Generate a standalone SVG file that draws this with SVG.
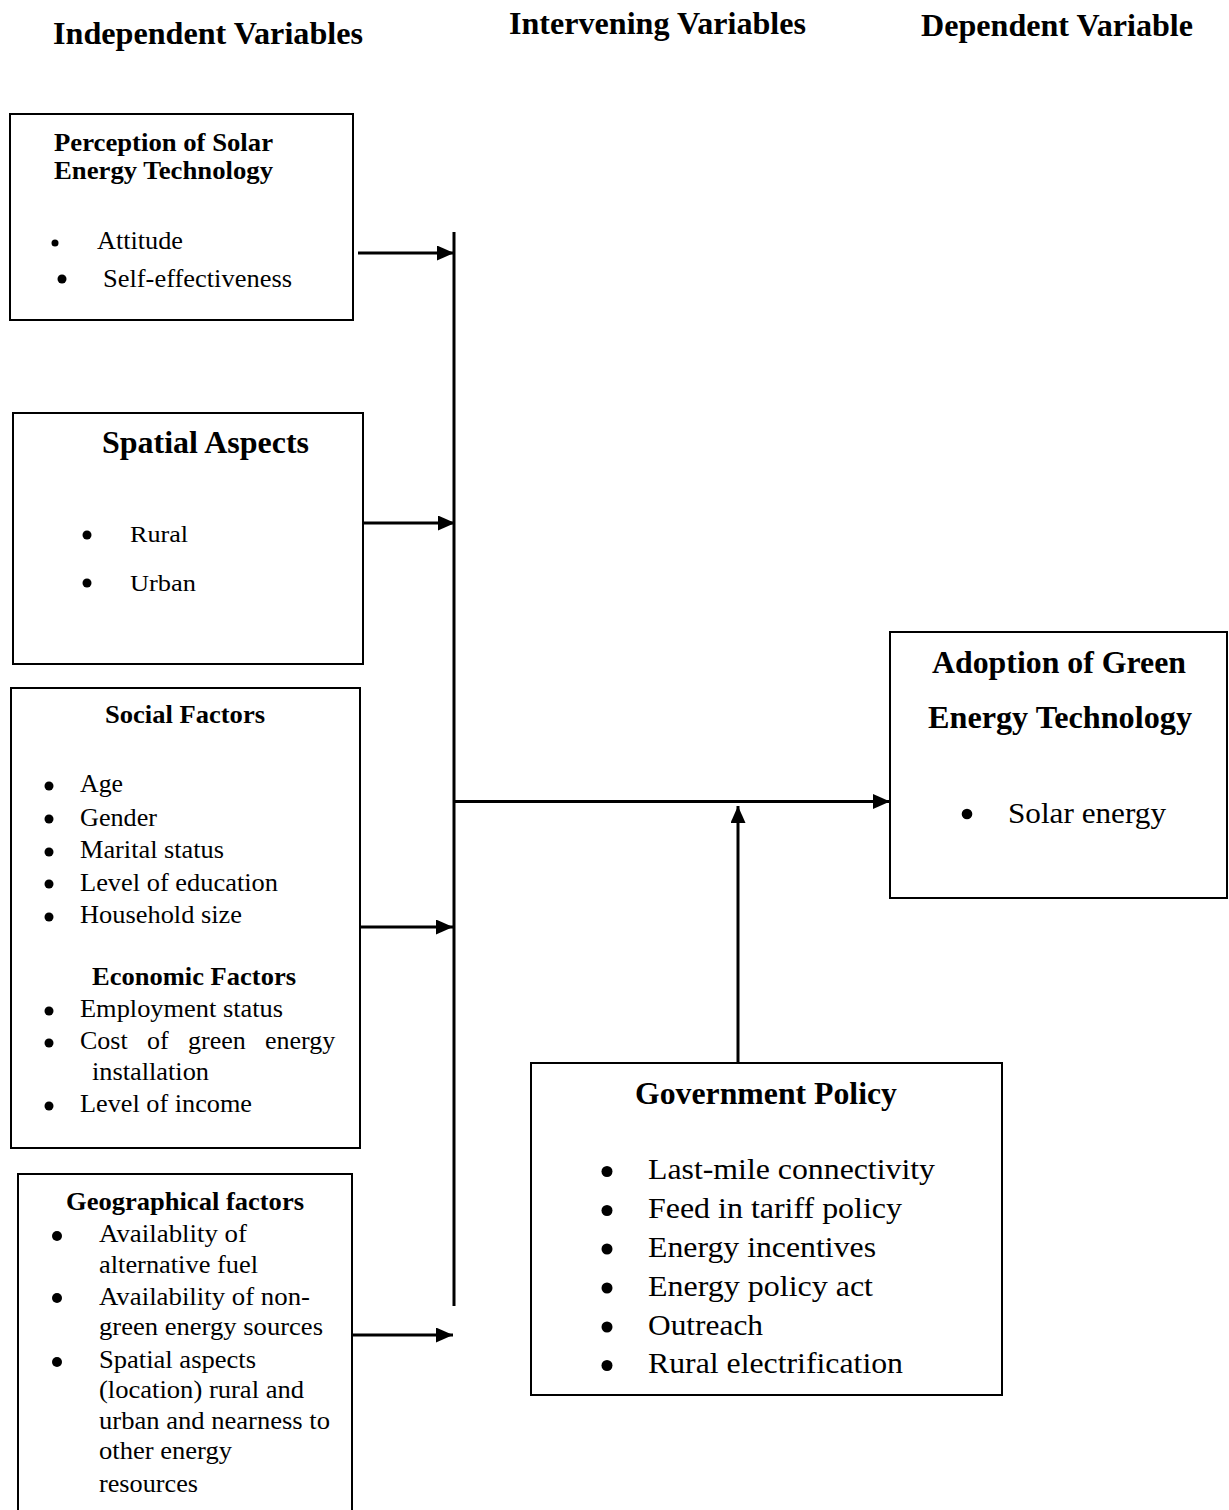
<svg xmlns="http://www.w3.org/2000/svg" width="1229" height="1510" viewBox="0 0 1229 1510">
<style>
text{font-family:"Liberation Serif","Times New Roman",serif;fill:#000}
.b{font-weight:bold}
.hd{font-size:32px;font-weight:bold}
.box{fill:#fff;stroke:#000;stroke-width:2}
.con{stroke:#000;stroke-width:3;fill:none}
.bul{fill:#000}
</style>
<defs>
<marker id="ah" markerUnits="userSpaceOnUse" markerWidth="17" markerHeight="15" refX="17" refY="7.5" orient="auto">
<path d="M0,0 L17,7.5 L0,15 z" fill="#000"/>
</marker>
</defs>
<rect width="1229" height="1510" fill="#fff"/>
<g id="headers">
<text class="hd" x="53" y="44" textLength="310" lengthAdjust="spacingAndGlyphs">Independent Variables</text>
<text class="hd" x="509" y="34" textLength="297" lengthAdjust="spacingAndGlyphs">Intervening Variables</text>
<text class="hd" x="921" y="36" textLength="272" lengthAdjust="spacingAndGlyphs">Dependent Variable</text>
</g>
<g id="perception">
<rect class="box" x="10" y="114" width="343" height="206"/>
<text class="b" font-size="25" x="54" y="151" textLength="219" lengthAdjust="spacingAndGlyphs">Perception of Solar</text>
<text class="b" font-size="25" x="54" y="179" textLength="219" lengthAdjust="spacingAndGlyphs">Energy Technology</text>
<circle class="bul" cx="55" cy="243" r="3.5"/>
<text font-size="25" x="97" y="249" textLength="86" lengthAdjust="spacingAndGlyphs">Attitude</text>
<circle class="bul" cx="62" cy="279" r="4.5"/>
<text font-size="25" x="103" y="287" textLength="189" lengthAdjust="spacingAndGlyphs">Self-effectiveness</text>
</g>
<g id="spatial">
<rect class="box" x="13" y="413" width="350" height="251"/>
<text class="b" font-size="32" x="102" y="453" textLength="207" lengthAdjust="spacingAndGlyphs">Spatial Aspects</text>
<circle class="bul" cx="87" cy="535" r="4.5"/>
<text font-size="24" x="130" y="542" textLength="58" lengthAdjust="spacingAndGlyphs">Rural</text>
<circle class="bul" cx="87" cy="583" r="4.5"/>
<text font-size="24" x="130" y="591" textLength="66" lengthAdjust="spacingAndGlyphs">Urban</text>
</g>
<g id="social">
<rect class="box" x="11" y="688" width="349" height="460"/>
<text class="b" font-size="26" x="105" y="723" textLength="160" lengthAdjust="spacingAndGlyphs">Social Factors</text>
<g class="bul">
<circle cx="49" cy="786" r="4.5"/>
<circle cx="49" cy="819" r="4.5"/>
<circle cx="49" cy="852" r="4.5"/>
<circle cx="49" cy="884" r="4.5"/>
<circle cx="49" cy="917" r="4.5"/>
<circle cx="49" cy="1011" r="4.5"/>
<circle cx="49" cy="1043" r="4.5"/>
<circle cx="49" cy="1106" r="4.5"/>
</g>
<text font-size="26" x="80" y="792" textLength="43" lengthAdjust="spacingAndGlyphs">Age</text>
<text font-size="26" x="80" y="825.5" textLength="77" lengthAdjust="spacingAndGlyphs">Gender</text>
<text font-size="26" x="80" y="858" textLength="144" lengthAdjust="spacingAndGlyphs">Marital status</text>
<text font-size="26" x="80" y="890.5" textLength="198" lengthAdjust="spacingAndGlyphs">Level of education</text>
<text font-size="26" x="80" y="923" textLength="162" lengthAdjust="spacingAndGlyphs">Household size</text>
<text class="b" font-size="26" x="92" y="985" textLength="204" lengthAdjust="spacingAndGlyphs">Economic Factors</text>
<text font-size="26" x="80" y="1017" textLength="203" lengthAdjust="spacingAndGlyphs">Employment status</text>
<text font-size="26" y="1049"><tspan x="80">Cost</tspan><tspan x="147">of</tspan><tspan x="188">green</tspan><tspan x="265">energy</tspan></text>
<text font-size="26" x="92" y="1080" textLength="117" lengthAdjust="spacingAndGlyphs">installation</text>
<text font-size="26" x="80" y="1112" textLength="172" lengthAdjust="spacingAndGlyphs">Level of income</text>
</g>
<g id="geographical">
<rect class="box" x="18" y="1174" width="334" height="360"/>
<text class="b" font-size="26" x="66" y="1210" textLength="238" lengthAdjust="spacingAndGlyphs">Geographical factors</text>
<g class="bul">
<circle cx="57" cy="1236" r="5"/>
<circle cx="57" cy="1298" r="5"/>
<circle cx="57" cy="1362" r="5"/>
</g>
<text font-size="26" x="99" y="1242" textLength="148" lengthAdjust="spacingAndGlyphs">Availablity of</text>
<text font-size="26" x="99" y="1273" textLength="159" lengthAdjust="spacingAndGlyphs">alternative fuel</text>
<text font-size="26" x="99" y="1305" textLength="211" lengthAdjust="spacingAndGlyphs">Availability of non-</text>
<text font-size="26" x="99" y="1335" textLength="224" lengthAdjust="spacingAndGlyphs">green energy sources</text>
<text font-size="26" x="99" y="1368" textLength="157" lengthAdjust="spacingAndGlyphs">Spatial aspects</text>
<text font-size="26" x="99" y="1398" textLength="205" lengthAdjust="spacingAndGlyphs">(location) rural and</text>
<text font-size="26" x="99" y="1429" textLength="231" lengthAdjust="spacingAndGlyphs">urban and nearness to</text>
<text font-size="26" x="99" y="1459" textLength="133" lengthAdjust="spacingAndGlyphs">other energy</text>
<text font-size="26" x="99" y="1492" textLength="99" lengthAdjust="spacingAndGlyphs">resources</text>
</g>
<g id="government">
<rect class="box" x="531" y="1063" width="471" height="332"/>
<text class="b" font-size="32" x="635" y="1104" textLength="262" lengthAdjust="spacingAndGlyphs">Government Policy</text>
<g class="bul">
<circle cx="607" cy="1171.5" r="5.5"/>
<circle cx="607" cy="1210.5" r="5.5"/>
<circle cx="607" cy="1249" r="5.5"/>
<circle cx="607" cy="1288" r="5.5"/>
<circle cx="607" cy="1327" r="5.5"/>
<circle cx="607" cy="1365.5" r="5.5"/>
</g>
<text font-size="30" x="648" y="1179" textLength="287" lengthAdjust="spacingAndGlyphs">Last-mile connectivity</text>
<text font-size="30" x="648" y="1218" textLength="254" lengthAdjust="spacingAndGlyphs">Feed in tariff policy</text>
<text font-size="30" x="648" y="1256.5" textLength="228" lengthAdjust="spacingAndGlyphs">Energy incentives</text>
<text font-size="30" x="648" y="1295.5" textLength="225" lengthAdjust="spacingAndGlyphs">Energy policy act</text>
<text font-size="30" x="648" y="1335" textLength="115" lengthAdjust="spacingAndGlyphs">Outreach</text>
<text font-size="30" x="648" y="1373" textLength="255" lengthAdjust="spacingAndGlyphs">Rural electrification</text>
</g>
<g id="adoption">
<rect class="box" x="890" y="632" width="337" height="266"/>
<text class="b" font-size="31" x="932" y="673" textLength="254" lengthAdjust="spacingAndGlyphs">Adoption of Green</text>
<text class="b" font-size="31" x="928" y="728" textLength="264" lengthAdjust="spacingAndGlyphs">Energy Technology</text>
<circle class="bul" cx="967" cy="814" r="5.3"/>
<text font-size="30" x="1008" y="823" textLength="158" lengthAdjust="spacingAndGlyphs">Solar energy</text>
</g>
<g id="connectors">
<line class="con" x1="454" y1="232" x2="454" y2="1306"/>
<line class="con" x1="358" y1="253" x2="454" y2="253" marker-end="url(#ah)"/>
<line class="con" x1="363" y1="523" x2="455" y2="523" marker-end="url(#ah)"/>
<line class="con" x1="360" y1="927" x2="453" y2="927" marker-end="url(#ah)"/>
<line class="con" x1="352" y1="1335" x2="453" y2="1335" marker-end="url(#ah)"/>
<line class="con" x1="454" y1="801.5" x2="890" y2="801.5" marker-end="url(#ah)"/>
<line class="con" x1="738" y1="1062" x2="738" y2="806" marker-end="url(#ah)"/>
</g>
</svg>
